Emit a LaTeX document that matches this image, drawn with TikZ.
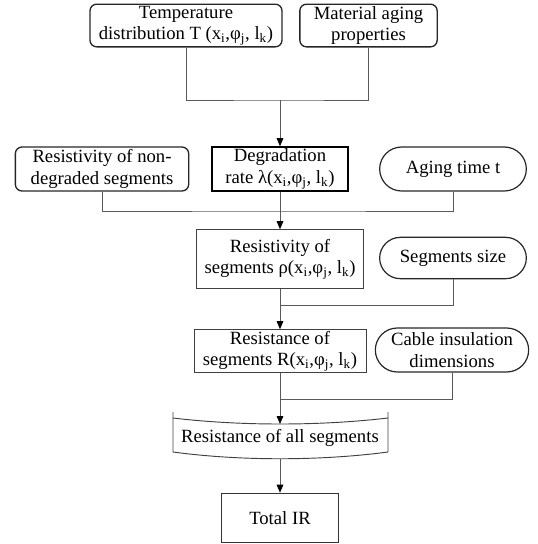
\documentclass[tikz,border=0pt]{standalone}
\usepackage{fontspec}
\setmainfont{Liberation Serif}
\usetikzlibrary{arrows.meta,shapes.misc}

\tikzset{
  txt/.style={align=center, inner sep=0pt, font=\fontsize{14}{16}\selectfont},
  rbox/.style={txt, draw=black!85, line width=1pt, rounded corners=5pt},
  sbox/.style={txt, draw=black!75, line width=0.7pt},
  dbox/.style={txt, draw=black, line width=1.2pt},
  term/.style={txt, draw=black!85, line width=0.9pt, rounded rectangle},
  conn/.style={draw=black!65, line width=0.6pt},
  arr/.style={conn, -{Triangle[length=6pt,width=5pt,black]}},
}

\begin{document}
\begin{tikzpicture}[x=0.75pt,y=0.75pt,yscale=-1]
\useasboundingbox (0,0) rectangle (537,544);

% inputs
\node (temp) [rbox, minimum width=144pt, minimum height=32pt] at (186,25.5) {Temperature\\distribution T (x\textsubscript{i},φ\textsubscript{j}, l\textsubscript{k})};
\node (mat) [rbox, minimum width=103pt, minimum height=32pt] at (368.5,25.5) {Material aging\\properties};
\coordinate (j1) at (280,100);

\node (nondeg) [rbox, minimum width=130pt, minimum height=33pt] at (102,169) {Resistivity of non-\\degraded segments};
\node (degr) [dbox, minimum width=102pt, minimum height=33pt] at (280,169) {Degradation\\rate λ(x\textsubscript{i},φ\textsubscript{j}, l\textsubscript{k})};
\node (aging) [term, minimum width=110pt, minimum height=33pt] at (453,169) {Aging time t};
\coordinate (j2) at (280,211);

\node (resy) [sbox, minimum width=125pt, minimum height=44pt] at (280,259) {Resistivity of\\segments ρ(x\textsubscript{i},φ\textsubscript{j}, l\textsubscript{k})};
\node (segsize) [term, minimum width=110pt, minimum height=31pt] at (453,258) {Segments size};
\coordinate (j3) at (280,305);

\node (resn) [sbox, minimum width=129pt, minimum height=32pt] at (280,351) {Resistance of\\segments R(x\textsubscript{i},φ\textsubscript{j}, l\textsubscript{k})};
\node (cable) [term, minimum width=115pt, minimum height=33pt] at (452,350) {Cable insulation\\dimensions};
\coordinate (j4) at (280,399);

% summation shape
\draw [conn, draw=black!75, line width=0.7pt] (173,412) -- (173,452) .. controls (240,461) and (320,461) .. (388,452) -- (388,412);
\draw [conn, draw=black!75, line width=0.7pt] (173,418) .. controls (240,426) and (320,426) .. (388,418);
\node (all) [txt] at (280,438) {Resistance of all segments};
\coordinate (alltop) at (280,424);
\coordinate (allbot) at (280,458.5);

\node (total) [sbox, draw=black!80, line width=1pt, minimum width=88pt, minimum height=37pt] at (280,518) {Total IR};

% connectors
\draw [conn] (temp.south) |- (j1) -| (mat.south);
\draw [arr] (j1) -- (degr.north);
\draw [conn] (nondeg.south) |- (j2) -| (aging.south);
\draw [arr] (degr.south) -- (resy.north);
\draw [conn] (segsize.south) |- (j3);
\draw [arr] (resy.south) -- (resn.north);
\draw [conn] (cable.south) |- (j4);
\draw [arr] (resn.south) -- (alltop);
\draw [arr] (allbot) -- (total.north);
\end{tikzpicture}
\end{document}
